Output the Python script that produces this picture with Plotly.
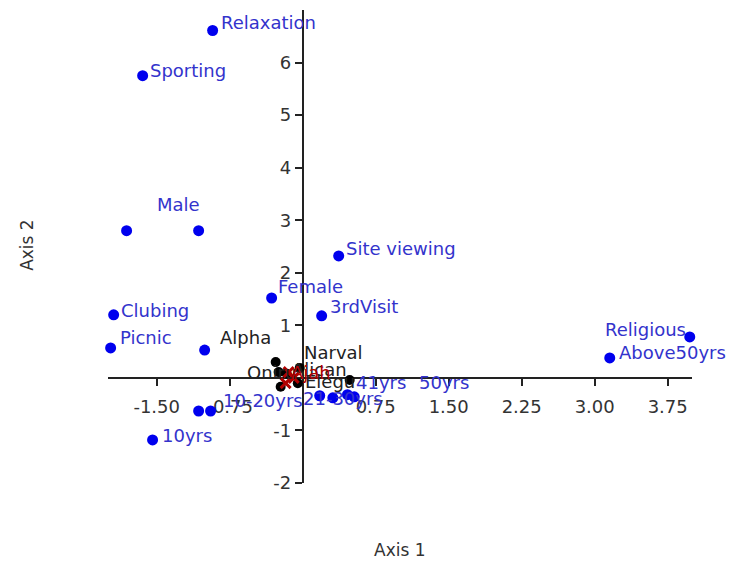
import plotly.graph_objects as go

# ---- data ----
blue_labels = ["Relaxation", "Sporting", "", "Male", "Site viewing", "Female", "3rdVisit",
               "Clubing", "Picnic", "", "Religious", "Above50yrs", "10yrs", "", "10-20yrs",
               "21-30yrs", "", "41yrs", "50yrs"]
blue_x = [-0.925, -1.644, -1.809, -1.069, 0.370, -0.319, 0.195,
          -1.942, -1.973, -1.007, 3.977, 3.155, -1.542, -1.069, -0.946,
          0.175, 0.31, 0.46, 0.53]
blue_y = [6.61, 5.75, 2.80, 2.80, 2.32, 1.52, 1.18,
          1.20, 0.57, 0.53, 0.78, 0.38, -1.18, -0.63, -0.63,
          -0.34, -0.38, -0.32, -0.36]

black_labels = ["Alpha", "Oniru", "Narval", "Alican", "Elegu", "", ""]
black_x = [-0.277, -0.247, -0.03, -0.164, -0.05, -0.226, 0.483]
black_y = [0.30, 0.11, 0.19, 0.08, -0.10, -0.17, -0.04]

red_labels = ["Ajah", "", ""]
red_x = [-0.144, -0.092, -0.175]
red_y = [0.11, 0.0, -0.10]

x_tickvals = [-1.50, -0.75, 0.75, 1.50, 2.25, 3.00, 3.75]
y_tickvals = [-2, -1, 1, 2, 3, 4, 5, 6]
x_range = [-2.0, 4.0]
y_range = [-2.0, 7.0]

# ---- label placement (pixel offsets from the point, anchor side) ----
blue_offsets = [(6, -8, "left"), (5, -5, "left"), None, (-44, -26, "left"), (5, -7, "left"),
                (4, -12, "left"), (6, -9, "left"), (5, -4, "left"), (7, -10, "left"), None,
                (-2, -7, "right"), (7, -5, "left"), (7, -4, "left"), None, (10, -11, "left"),
                (-19, 3, "left"), None, (7, -12, "left"), (63, -14, "left")]
black_offsets = [(-58, -25, "left"), (-34, 0, "left"), (2, -15, "left"), (3, -4, "left"),
                 (5, -2, "left"), None, None]
red_offsets = [(0, 0, "left"), None, None]

FONT = "DejaVu Sans"
BLUE_TXT = "#3333cc"
RED = "#b00000"

fig = go.Figure()
fig.add_trace(go.Scatter(
    x=black_x, y=black_y, mode="markers",
    marker=dict(color="black", size=10), cliponaxis=False, showlegend=False))
fig.add_trace(go.Scatter(
    x=red_x, y=red_y, mode="markers",
    marker=dict(color=RED, size=10, symbol="x-thin", line=dict(color=RED, width=3)),
    cliponaxis=False, showlegend=False))
fig.add_trace(go.Scatter(
    x=blue_x, y=blue_y, mode="markers",
    marker=dict(color="#0000ee", size=11), cliponaxis=False, showlegend=False))

annotations = []
def add_labels(labels, xs, ys, offsets, color):
    for lab, x, y, off in zip(labels, xs, ys, offsets):
        if not lab or off is None:
            continue
        dx, dy, side = off
        annotations.append(dict(
            x=x, y=y, xref="x", yref="y", text=lab, showarrow=False,
            xanchor=side, yanchor="middle", xshift=dx, yshift=-dy,
            font=dict(size=18, color=color, family=FONT)))

add_labels(black_labels, black_x, black_y, black_offsets, "#222222")
add_labels(red_labels, red_x, red_y, red_offsets, RED)
add_labels(blue_labels, blue_x, blue_y, blue_offsets, BLUE_TXT)

annotations += [
    dict(text="Axis 1", x=0.5, y=-0.142, xref="paper", yref="paper", showarrow=False,
         xanchor="center", yanchor="middle", font=dict(size=17, color="#333333", family=FONT)),
    dict(text="Axis 2", x=-0.14, y=0.504, xref="paper", yref="paper", showarrow=False,
         xanchor="center", yanchor="middle", textangle=-90,
         font=dict(size=17, color="#333333", family=FONT)),
]

xpos = (0 - y_range[0]) / (y_range[1] - y_range[0])
ypos = (0 - x_range[0]) / (x_range[1] - x_range[0])

fig.update_layout(
    width=740, height=566,
    margin=dict(l=108, r=48, t=10, b=83),
    paper_bgcolor="white", plot_bgcolor="white",
    font=dict(family=FONT, size=18, color="#333333"),
    xaxis=dict(range=x_range, anchor="free", position=xpos, showgrid=False, zeroline=False,
               showline=True, linecolor="#222222", linewidth=1.5, ticks="outside", ticklen=7,
               tickcolor="#222222", tickwidth=1.5, tickvals=x_tickvals,
               ticktext=["%.2f" % v for v in x_tickvals], layer="below traces",
               ticklabelstandoff=6,
               tickfont=dict(size=18, color="#333333", family=FONT)),
    yaxis=dict(range=y_range, anchor="free", position=ypos, showgrid=False, zeroline=False,
               showline=True, linecolor="#222222", linewidth=1.5, ticks="outside", ticklen=7,
               tickcolor="#222222", tickwidth=1.5, tickvals=y_tickvals,
               ticktext=[str(v) for v in y_tickvals], layer="below traces",
               tickfont=dict(size=18, color="#333333", family=FONT)),
    annotations=annotations,
)

fig.write_html("out.html")
